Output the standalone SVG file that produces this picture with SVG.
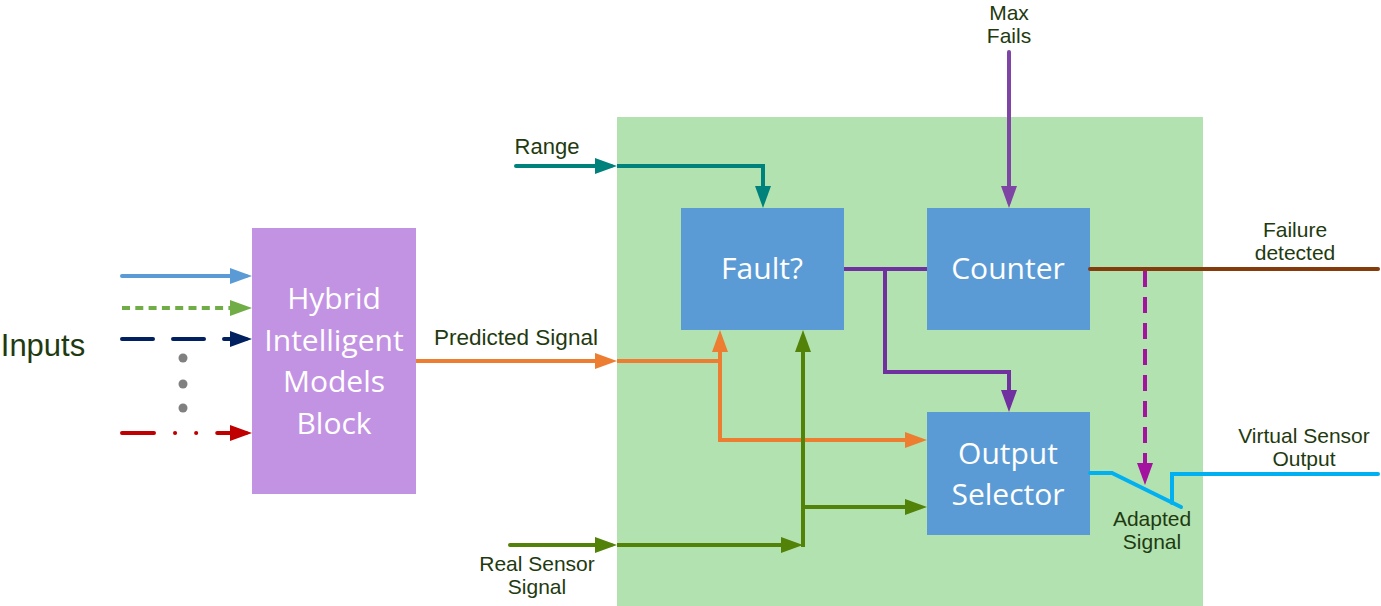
<svg xmlns="http://www.w3.org/2000/svg" width="1381" height="606" viewBox="0 0 1381 606">
  <style>
    .lbl { font-family: "Liberation Sans", Arial, sans-serif; font-size: 21px; fill: #1F3A10; text-anchor: middle; }
    .box-txt { font-family: "Open Sans", "Liberation Sans", sans-serif; font-size: 30px; fill: #FFFFFF; text-anchor: middle; }
    .ln { fill: none; stroke-width: 4; }
  </style>
  <defs>
    <marker id="a-lblue" viewBox="0 0 22 16" refX="16" refY="8" markerWidth="22" markerHeight="16" markerUnits="userSpaceOnUse" orient="auto"><path d="M0,0 L22,8 L0,16 z" fill="#5B9BD5"/></marker>
    <marker id="a-lgreen" viewBox="0 0 22 16" refX="16" refY="8" markerWidth="22" markerHeight="16" markerUnits="userSpaceOnUse" orient="auto"><path d="M0,0 L22,8 L0,16 z" fill="#70AD47"/></marker>
    <marker id="a-navy" viewBox="0 0 22 16" refX="16" refY="8" markerWidth="22" markerHeight="16" markerUnits="userSpaceOnUse" orient="auto"><path d="M0,0 L22,8 L0,16 z" fill="#002060"/></marker>
    <marker id="a-red" viewBox="0 0 22 16" refX="16" refY="8" markerWidth="22" markerHeight="16" markerUnits="userSpaceOnUse" orient="auto"><path d="M0,0 L22,8 L0,16 z" fill="#C00000"/></marker>
    <marker id="a-orange" viewBox="0 0 22 16" refX="16" refY="8" markerWidth="22" markerHeight="16" markerUnits="userSpaceOnUse" orient="auto"><path d="M0,0 L22,8 L0,16 z" fill="#ED7D31"/></marker>
    <marker id="a-dgreen" viewBox="0 0 22 16" refX="16" refY="8" markerWidth="22" markerHeight="16" markerUnits="userSpaceOnUse" orient="auto"><path d="M0,0 L22,8 L0,16 z" fill="#538209"/></marker>
    <marker id="a-teal" viewBox="0 0 22 16" refX="16" refY="8" markerWidth="22" markerHeight="16" markerUnits="userSpaceOnUse" orient="auto"><path d="M0,0 L22,8 L0,16 z" fill="#00827C"/></marker>
    <marker id="a-purple" viewBox="0 0 22 16" refX="16" refY="8" markerWidth="22" markerHeight="16" markerUnits="userSpaceOnUse" orient="auto"><path d="M0,0 L22,8 L0,16 z" fill="#7F45A5"/></marker>
    <marker id="a-purple2" viewBox="0 0 22 16" refX="16" refY="8" markerWidth="22" markerHeight="16" markerUnits="userSpaceOnUse" orient="auto"><path d="M0,0 L22,8 L0,16 z" fill="#7030A0"/></marker>
    <marker id="a-magenta" viewBox="0 0 22 16" refX="16" refY="8" markerWidth="22" markerHeight="16" markerUnits="userSpaceOnUse" orient="auto"><path d="M0,0 L22,8 L0,16 z" fill="#A3139F"/></marker>
  </defs>

  <rect width="1381" height="606" fill="#FFFFFF"/>

  <g id="panel">
    <rect x="617" y="117" width="586" height="489" fill="#B3E2B1"/>
  </g>

  <g id="hybrid-block">
    <rect x="252" y="228" width="164" height="266" fill="#C393E3"/>
    <text class="box-txt" x="334" y="309">Hybrid<tspan x="334" dy="42">Intelligent</tspan><tspan x="334" dy="41">Models</tspan><tspan x="334" dy="42">Block</tspan></text>
  </g>

  <g id="fault">
    <rect x="681" y="208" width="163" height="122" fill="#5B9BD5"/>
    <text class="box-txt" x="762" y="279">Fault?</text>
  </g>

  <g id="counter">
    <rect x="927" y="208" width="163" height="122" fill="#5B9BD5"/>
    <text class="box-txt" x="1008" y="279">Counter</text>
  </g>

  <g id="output-selector">
    <rect x="927" y="412" width="163" height="123" fill="#5B9BD5"/>
    <text class="box-txt" x="1008" y="464">Output<tspan x="1008" dy="41">Selector</tspan></text>
  </g>

  <g id="connectors">
    <!-- inputs -->
    <line class="ln" x1="122" y1="276" x2="246" y2="276" stroke="#5B9BD5" stroke-linecap="round" marker-end="url(#a-lblue)"/>
    <line class="ln" x1="122" y1="308" x2="246" y2="308" stroke="#70AD47" stroke-dasharray="8 5.3" marker-end="url(#a-lgreen)"/>
    <line class="ln" x1="122" y1="339" x2="246" y2="339" stroke="#002060" stroke-linecap="round" stroke-dasharray="31 20" marker-end="url(#a-navy)"/>
    <line class="ln" x1="122" y1="433" x2="246" y2="433" stroke="#C00000" stroke-linecap="round" stroke-dasharray="32 21 0.1 21 0.1 21" marker-end="url(#a-red)"/>
    <circle cx="183" cy="358" r="4.5" fill="#808080"/>
    <circle cx="183" cy="384" r="4.5" fill="#808080"/>
    <circle cx="183" cy="408" r="4.5" fill="#808080"/>

    <!-- predicted signal -->
    <line class="ln" x1="416" y1="361" x2="611" y2="361" stroke="#ED7D31" marker-end="url(#a-orange)"/>
    <polyline class="ln" points="617,361 720,361 720,336" stroke="#ED7D31" marker-end="url(#a-orange)"/>
    <polyline class="ln" points="720,361 720,440 921,440" stroke="#ED7D31" marker-end="url(#a-orange)"/>

    <!-- real sensor signal -->
    <line class="ln" x1="510" y1="545" x2="611" y2="545" stroke="#538209" stroke-linecap="round" marker-end="url(#a-dgreen)"/>
    <line class="ln" x1="617" y1="545" x2="797" y2="545" stroke="#538209" marker-end="url(#a-dgreen)"/>
    <line class="ln" x1="803" y1="547" x2="803" y2="336" stroke="#538209" marker-end="url(#a-dgreen)"/>
    <line class="ln" x1="803" y1="507" x2="921" y2="507" stroke="#538209" marker-end="url(#a-dgreen)"/>

    <!-- range -->
    <line class="ln" x1="516" y1="166" x2="611" y2="166" stroke="#00827C" stroke-linecap="round" marker-end="url(#a-teal)"/>
    <polyline class="ln" points="617,166 763,166 763,202" stroke="#00827C" marker-end="url(#a-teal)"/>

    <!-- max fails -->
    <line class="ln" x1="1009" y1="52" x2="1009" y2="202" stroke="#7F45A5" stroke-linecap="round" marker-end="url(#a-purple)"/>

    <!-- fault to counter / selector -->
    <line class="ln" x1="844" y1="269" x2="927" y2="269" stroke="#7030A0"/>
    <polyline class="ln" points="885,269 885,372 1009,372 1009,406" stroke="#7030A0" marker-end="url(#a-purple2)"/>

    <!-- failure detected -->
    <line class="ln" x1="1090" y1="269" x2="1378" y2="269" stroke="#843C0C" stroke-linecap="round"/>

    <!-- counter to switch (dashed) -->
    <line class="ln" x1="1145" y1="271" x2="1145" y2="479" stroke="#A3139F" stroke-dasharray="16 10" marker-end="url(#a-magenta)"/>

    <!-- switch / output -->
    <polyline class="ln" points="1090,473 1112,473 1181,507" stroke="#00B0F0" stroke-linecap="round"/>
    <polyline class="ln" points="1172,503 1172,474 1378,474" stroke="#00B0F0" stroke-linecap="round"/>
  </g>

  <g id="labels">
    <text class="lbl" x="43" y="356" style="font-size:31px">Inputs</text>
    <text class="lbl" x="516" y="345" style="font-size:22.5px">Predicted Signal</text>
    <text class="lbl" x="547" y="154" style="font-size:22px">Range</text>
    <text class="lbl" x="1009" y="19.5">Max<tspan x="1009" dy="23.5">Fails</tspan></text>
    <text class="lbl" x="1295" y="236.5">Failure<tspan x="1295" dy="23.5">detected</tspan></text>
    <text class="lbl" x="1304" y="442.5">Virtual Sensor<tspan x="1304" dy="23.5">Output</tspan></text>
    <text class="lbl" x="1152" y="525.5">Adapted<tspan x="1152" dy="23.5">Signal</tspan></text>
    <text class="lbl" x="537" y="570.5">Real Sensor<tspan x="537" dy="23.5">Signal</tspan></text>
  </g>
</svg>
